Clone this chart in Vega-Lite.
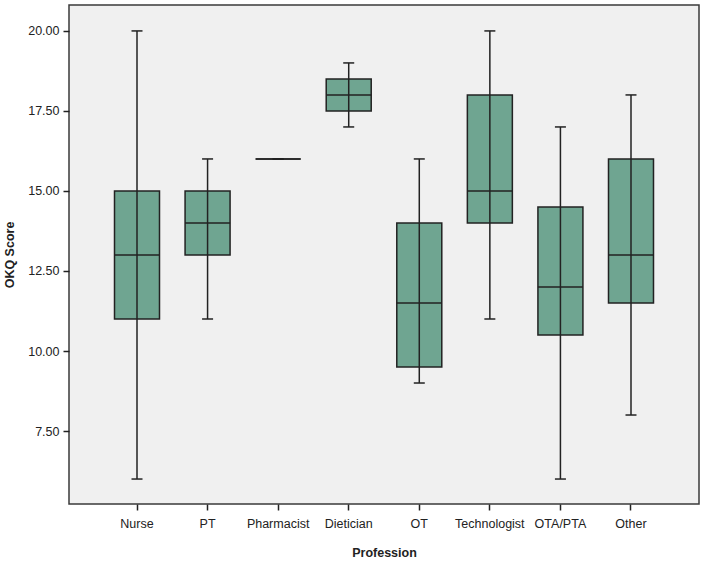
{
  "$schema": "https://vega.github.io/schema/vega-lite/v6.json",
  "autosize": "none",
  "width": 630,
  "height": 499,
  "padding": {"left": 69, "top": 5, "right": 5, "bottom": 58},
  "background": "white",
  "config": {
    "view": {"fill": "#f0f0f0", "stroke": "#3a3a3a", "strokeWidth": 1.5},
    "font": "Liberation Sans",
    "axis": {
      "grid": false,
      "domain": false,
      "tickColor": "#222222",
      "tickWidth": 1.5,
      "tickSize": 6,
      "labelColor": "#222222",
      "labelFontSize": 12.5,
      "labelFont": "Liberation Sans",
      "titleFont": "Liberation Sans",
      "titleFontSize": 12.5,
      "titleFontWeight": "bold",
      "titleColor": "#222222"
    }
  },
  "data": {
    "values": [
      {"Profession": "Nurse", "lower": 6, "q1": 11, "median": 13, "q3": 15, "upper": 20},
      {"Profession": "PT", "lower": 11, "q1": 13, "median": 14, "q3": 15, "upper": 16},
      {"Profession": "Pharmacist", "lower": 16, "q1": 16, "median": 16, "q3": 16, "upper": 16},
      {"Profession": "Dietician", "lower": 17, "q1": 17.5, "median": 18, "q3": 18.5, "upper": 19},
      {"Profession": "OT", "lower": 9, "q1": 9.5, "median": 11.5, "q3": 14, "upper": 16},
      {"Profession": "Technologist", "lower": 11, "q1": 14, "median": 15, "q3": 18, "upper": 20},
      {"Profession": "OTA/PTA", "lower": 6, "q1": 10.5, "median": 12, "q3": 14.5, "upper": 17},
      {"Profession": "Other", "lower": 8, "q1": 11.5, "median": 13, "q3": 16, "upper": 18}
    ]
  },
  "encoding": {
    "x": {
      "field": "Profession",
      "type": "nominal",
      "sort": null,
      "scale": {"paddingInner": 0, "paddingOuter": 0.4636},
      "axis": {"labelAngle": 0, "labelPadding": 7, "title": "Profession", "titlePadding": 17}
    }
  },
  "layer": [
    {
      "mark": {"type": "bar", "size": 45, "fill": "#6fa591", "stroke": "#222222", "strokeWidth": 1.5},
      "encoding": {
        "y": {
          "field": "q1",
          "type": "quantitative",
          "scale": {"domain": [5.22, 20.81], "nice": false, "zero": false},
          "axis": {"values": [7.5, 10, 12.5, 15, 17.5, 20], "format": ".2f", "title": "OKQ Score", "labelPadding": 4, "titlePadding": 11}
        },
        "y2": {"field": "q3"}
      }
    },
    {
      "mark": {"type": "rule", "color": "#222222", "strokeWidth": 1.5},
      "encoding": {
        "y": {"field": "lower", "type": "quantitative"},
        "y2": {"field": "upper"}
      }
    },
    {
      "mark": {"type": "tick", "size": 45, "thickness": 1.5, "color": "#222222", "opacity": 1},
      "encoding": {"y": {"field": "median", "type": "quantitative"}}
    },
    {
      "mark": {"type": "tick", "size": 11, "thickness": 1.5, "color": "#222222", "opacity": 1},
      "encoding": {"y": {"field": "lower", "type": "quantitative"}}
    },
    {
      "mark": {"type": "tick", "size": 11, "thickness": 1.5, "color": "#222222", "opacity": 1},
      "encoding": {"y": {"field": "upper", "type": "quantitative"}}
    }
  ]
}
